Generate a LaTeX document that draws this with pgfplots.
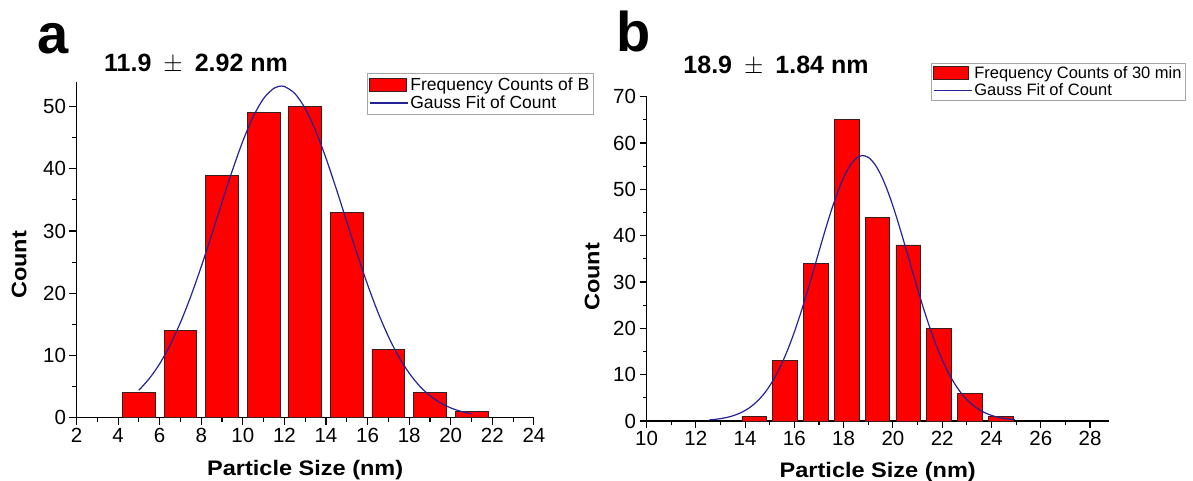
\documentclass[border=0pt]{standalone}
\usepackage{pgfplots}
\pgfplotsset{compat=1.18}
\usepackage{fontspec}
\setmainfont{Liberation Sans}
\newfontfamily\boldwide{Liberation Sans}[FakeStretch=1.12]
\definecolor{gaussblue}{RGB}{35,35,150}
\definecolor{baredge}{RGB}{60,30,30}
\pgfplotsset{
  histo/.style={
    scale only axis, clip=false,
    axis x line*=bottom, axis y line*=left,
    axis line style={-, black, line width=1.3pt},
    tick align=outside,
    major tick length=7pt, minor tick length=4pt,
    tick style={black, line width=1.1pt},
    minor x tick num=1, minor y tick num=1,
    tick label style={font=\fontsize{20.5}{20.5}\selectfont},
    /pgf/number format/assume math mode=true,
    ymin=0,
    label style={font=\boldwide\bfseries\fontsize{21}{21}\selectfont},
    legend cell align=left,
  },
  barlegend/.style={legend image code/.code={\draw[fill=red, draw=baredge, line width=0.8pt] (0pt,-6.5pt) rectangle (#1,6.5pt);}},
  linelegend/.style={legend image code/.code={\draw[gaussblue, line width=1.2pt] (0pt,0pt) -- (#1,0pt);}},
}
\begin{document}
\begin{tikzpicture}
\useasboundingbox (0,0) rectangle (1193pt,481pt);
% ---------------- panel a ----------------
\begin{axis}[histo,
  at={(76.5pt,63.3pt)}, anchor=south west,
  width=457.4pt, height=336pt,
  xmin=2, xmax=24, ymax=54,
  xtick={2,4,...,24}, ytick={0,10,...,50},
  xlabel={Particle Size (nm)}, ylabel={Count},
  x label style={at={(axis description cs:0.5,-0.171)}, anchor=base},
  y label style={at={(axis description cs:-0.1253,0.4545)}, anchor=center},
  legend style={at={(rel axis cs:0.6345,1.025)}, anchor=north west,
    draw=gray!70, line width=0.8pt, font=\fontsize{17.5}{19.5}\selectfont,
    inner xsep=2pt, inner ysep=2pt, row sep=0pt,
    /tikz/every even column/.append style={column sep=4pt}},
]
\addplot[ybar, bar width=1.58, fill=red, draw=baredge, line width=0.8pt, barlegend=37pt]
  coordinates {(5,4) (7,14) (9,39) (11,49) (13,50) (15,33) (17,11) (19,4) (21,1)};
\addlegendentry{Frequency Counts of B\hspace{4pt}}
\addplot[smooth, gaussblue, line width=1.2pt, linelegend=38pt] coordinates {
(5,4.42)(5.5,6.28)(6,8.67)(6.5,11.67)(7,15.30)(7.5,19.54)(8,24.28)(8.5,29.38)
(9,34.64)(9.5,39.76)(10,44.45)(10.5,48.39)(11,51.30)(11.5,52.96)(11.85,53.3)
(12,53.24)(12.5,52.11)(13,49.69)(13.5,46.13)(14,41.71)(14.5,36.72)(15,31.49)
(15.5,26.29)(16,21.38)(16.5,16.93)(17,13.05)(17.5,9.80)(18,7.17)(18.5,5.10)
(19,3.54)(19.5,2.39)(20,1.57)(20.5,1.01)(21,0.63)};
\addlegendentry{Gauss Fit of Count}
\node[anchor=base, font=\bfseries\fontsize{25}{25}\selectfont]
  at (rel axis cs:0.2613,1.029) {11.9\hspace{12pt}$\pm$\hspace{12pt}2.92 nm};
\node[anchor=base, font=\bfseries\fontsize{56}{56}\selectfont]
  at (rel axis cs:-0.0505,1.0845) {a};
\end{axis}
% ---------------- panel b ----------------
\begin{axis}[histo,
  at={(646.5pt,60pt)}, anchor=south west,
  width=462.5pt, height=324.3pt,
  xmin=10, xmax=28.77, ymax=70,
  xtick={10,12,...,28}, ytick={0,10,...,70},
  xlabel={Particle Size (nm)}, ylabel={Count},
  x label style={at={(axis description cs:0.5,-0.1727)}, anchor=base},
  y label style={at={(axis description cs:-0.1178,0.444)}, anchor=center},
  legend style={at={(rel axis cs:0.6145,1.105)}, anchor=north west,
    draw=gray!70, line width=0.8pt, font=\fontsize{16.5}{18}\selectfont,
    inner xsep=2pt, inner ysep=1pt, row sep=0pt,
    /tikz/every even column/.append style={column sep=4pt}},
]
\addplot[ybar, bar width=1.0, fill=red, draw=baredge, line width=0.8pt, barlegend=35pt]
  coordinates {(14.375,1) (15.625,13) (16.875,34) (18.125,65) (19.375,44) (20.625,38) (21.875,20) (23.125,6) (24.375,1)};
\addlegendentry{Frequency Counts of 30 min\hspace{8pt}}
\addplot[smooth, gaussblue, line width=1.2pt, linelegend=38pt] coordinates {
(12.55,0.24)(12.75,0.33)(13,0.51)(13.25,0.76)(13.5,1.11)(13.75,1.60)(14,2.26)
(14.25,3.14)(14.5,4.29)(14.75,5.76)(15,7.59)(15.25,9.83)(15.5,12.51)(15.75,15.64)
(16,19.20)(16.25,23.17)(16.5,27.46)(16.75,31.98)(17,36.60)(17.25,41.15)(17.5,45.45)
(17.75,49.31)(18,52.57)(18.25,55.06)(18.5,56.67)(18.75,57.30)(19,56.91)(19.25,55.54)
(19.5,53.25)(19.75,50.16)(20,46.42)(20.25,42.21)(20.5,37.70)(20.75,33.09)(21,28.54)
(21.25,24.17)(21.5,20.12)(21.75,16.45)(22,13.21)(22.25,10.43)(22.5,8.09)(22.75,6.16)
(23,4.61)(23.25,3.40)(23.5,2.45)(23.75,1.74)(24,1.21)(24.25,0.83)(24.5,0.56)
(24.75,0.37)(24.95,0.26)};
\addlegendentry{Gauss Fit of Count}
\node[anchor=base, font=\bfseries\fontsize{25}{25}\selectfont]
  at (rel axis cs:0.28,1.073) {18.9\hspace{12pt}$\pm$\hspace{12pt}1.84 nm};
\node[anchor=base, font=\bfseries\fontsize{56}{56}\selectfont]
  at (rel axis cs:-0.027,1.1388) {b};
\end{axis}
\end{tikzpicture}
\end{document}
